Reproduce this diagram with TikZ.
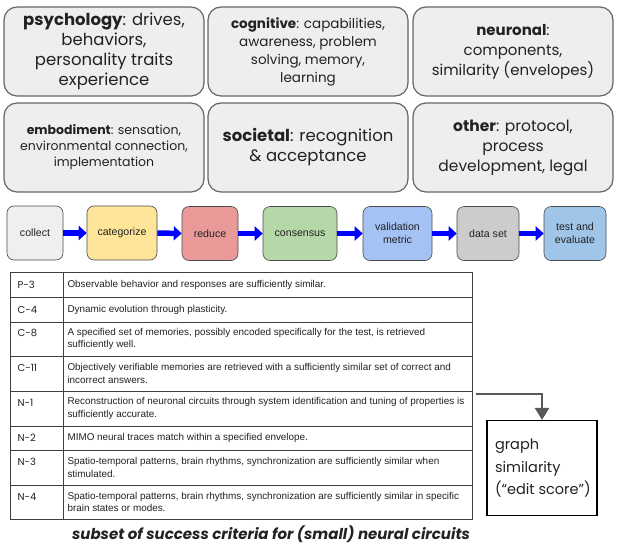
\documentclass[tikz,border=0pt]{standalone}
\usepackage{fontspec}
\setmainfont{Poppins}
\newfontfamily\arialf{Liberation Sans}
\usetikzlibrary{arrows.meta}
\definecolor{boxfill}{HTML}{EEEEEE}
\definecolor{boxdraw}{HTML}{666666}
\definecolor{txt}{HTML}{222222}
\definecolor{cCollect}{HTML}{EFEFEF}
\definecolor{cCateg}{HTML}{FFE599}
\definecolor{cReduce}{HTML}{EA9999}
\definecolor{cCons}{HTML}{B6D7A8}
\definecolor{cValid}{HTML}{A4C2F4}
\definecolor{cData}{HTML}{CCCCCC}
\definecolor{cTest}{HTML}{9FC5E8}
\definecolor{arrowgrey}{HTML}{595959}
\tikzset{
  topbox/.style={draw=boxdraw, fill=boxfill, line width=1.2pt, rounded corners=13pt,
    minimum width=200pt, minimum height=89pt, align=center, text=txt, inner sep=2pt},
  procbox/.style={draw=black!70, line width=0.6pt, rounded corners=7pt,
    minimum height=54pt, align=center, font=\arialf\fontsize{10.6}{13}\selectfont, text=txt, inner sep=1pt},
  blockarrow/.style={draw=blue, line width=5.5pt, -{Triangle[length=8pt,width=14pt]}},
  rowlabel/.style={anchor=west, font=\fontsize{10}{12}\selectfont, text=txt},
  rowtext/.style={anchor=west, align=left, font=\arialf\fontsize{9.9}{12.5}\selectfont, text=txt},
}
\begin{document}
\begin{tikzpicture}[x=1pt,y=-1pt]
\useasboundingbox (0,0) rectangle (617,559);
\fill[white] (0,0) rectangle (617,559);

% top boxes
\node[topbox, font=\fontsize{16.5}{20}\selectfont] (psy) at (104,51.5)
  {\textbf{psychology}: drives,\\ behaviors,\\ personality traits\\ experience};
\node[topbox, font=\fontsize{13.5}{18}\selectfont] (cog) at (308,51.5)
  {\textbf{cognitive}: capabilities,\\ awareness, problem\\ solving, memory,\\ learning};
\node[topbox, font=\fontsize{15}{20}\selectfont] (neu) at (513,51.5)
  {\textbf{neuronal}:\\ components,\\ similarity (envelopes)};
\node[topbox, font=\fontsize{12.5}{16}\selectfont] (emb) at (104,147.5)
  {\textbf{embodiment}: sensation,\\ environmental connection,\\ implementation};
\node[topbox, font=\fontsize{16.5}{20}\selectfont] (soc) at (308,147.5)
  {\textbf{societal}: recognition\\ \& acceptance};
\node[topbox, font=\fontsize{15.5}{20}\selectfont] (oth) at (513,147.5)
  {\textbf{other}: protocol,\\ process\\ development, legal};

% process row
\node[procbox, fill=cCollect, minimum width=56pt] (collect) at (35,233) {collect};
\node[procbox, fill=cCateg, minimum width=70pt] (categ) at (122,233) {categorize};
\node[procbox, fill=cReduce, minimum width=56pt] (reduce) at (210,233.5) {reduce};
\node[procbox, fill=cCons, minimum width=74pt] (cons) at (300,233.5) {consensus};
\node[procbox, fill=cValid, minimum width=69pt] (valid) at (397.5,233.5) {validation\\ metric};
\node[procbox, fill=cData, minimum width=62pt] (data) at (488,233.5) {data set};
\node[procbox, fill=cTest, minimum width=62pt] (test) at (575,233.5) {test and\\ evaluate};

\draw[blockarrow] (collect.east) -- (categ.west);
\draw[blockarrow] (categ.east) -- (reduce.west);
\draw[blockarrow] (reduce.east) -- (cons.west);
\draw[blockarrow] (cons.east) -- (valid.west);
\draw[blockarrow] (valid.east) -- (data.west);
\draw[blockarrow] (data.east) -- (test.west);

% table
\draw[black!75, line width=0.8pt] (10,272) rectangle (472,519);
\draw[black!75, line width=0.8pt] (63,272) -- (63,519);
\foreach \yy in {297,322,356,391,426,450,485}
  \draw[black!75, line width=0.8pt] (10,\yy) -- (472,\yy);

\node[rowlabel] (l1) at (14,285) {P-3};
\node[rowlabel] (l2) at (14,310) {C-4};
\node[rowlabel] (l3) at (14,333) {C-8};
\node[rowlabel] (l4) at (14,368) {C-11};
\node[rowlabel] (l5) at (14,403) {N-1};
\node[rowlabel] (l6) at (14,438) {N-2};
\node[rowlabel] (l7) at (14,462) {N-3};
\node[rowlabel] (l8) at (14,497) {N-4};

\node[rowtext] (t1) at (64,284.5) {Observable behavior and responses are sufficiently similar.};
\node[rowtext] (t2) at (64,309.5) {Dynamic evolution through plasticity.};
\node[rowtext] (t3) at (64,339) {A specified set of memories, possibly encoded specifically for the test, is retrieved\\ sufficiently well.};
\node[rowtext] (t4) at (64,373.5) {Objectively verifiable memories are retrieved with a sufficiently similar set of correct and\\ incorrect answers.};
\node[rowtext] (t5) at (64,408.5) {Reconstruction of neuronal circuits through system identification and tuning of properties is\\ sufficiently accurate.};
\node[rowtext] (t6) at (64,438) {MIMO neural traces match within a specified envelope.};
\node[rowtext] (t7) at (64,467.5) {Spatio-temporal patterns, brain rhythms, synchronization are sufficiently similar when\\ stimulated.};
\node[rowtext] (t8) at (64,502) {Spatio-temporal patterns, brain rhythms, synchronization are sufficiently similar in specific\\ brain states or modes.};

\node[font=\fontsize{15}{18}\selectfont\bfseries\itshape, text=txt] (cap) at (271,534)
  {subset of success criteria for (small) neural circuits};

% graph similarity
\node[draw=black, line width=1.2pt, minimum width=110pt, minimum height=95pt, text=txt,
  align=left, font=\fontsize{14.5}{22.5}\selectfont, inner sep=0pt] (gs) at (542,468)
  {\parbox{108pt}{\raggedright\hspace*{7pt}graph\\ \hspace*{7pt}similarity\\ \hspace*{7pt}(“edit score”)}};
\coordinate (tout) at (476,394);
\draw[arrowgrey, line width=2.5pt, -{Triangle[length=12pt,width=14pt]}] (tout) -| (gs.north);
\end{tikzpicture}
\end{document}
